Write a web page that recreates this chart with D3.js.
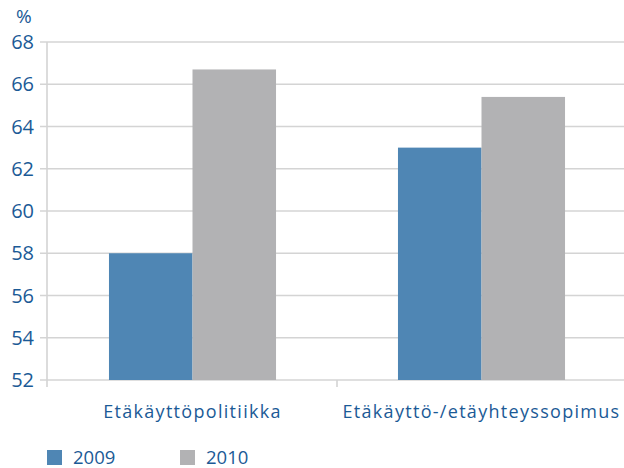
<!DOCTYPE html>
<html>
<head>
<meta charset="utf-8">
<script src="https://cdn.jsdelivr.net/npm/d3@7"></script>
<style>
  body { margin: 0; background: #fff; }
  text { font-family: "Open Sans", "DejaVu Sans", sans-serif; fill: #1b5a96; }
</style>
</head>
<body>
<script>
var categories = ["Etäkäyttöpolitiikka", "Etäkäyttö-/etäyhteyssopimus"];
var seriesNames = ["2009", "2010"];
var values2009 = [58, 63];
var values2010 = [66.7, 65.4];
var yTicks = [52, 54, 56, 58, 60, 62, 64, 66, 68];
var colors = ["#4f86b4", "#b2b2b4"];

var width = 624, height = 468;
var margin = {left: 47, top: 42, right: 1, bottom: 88};

var svg = d3.select("body").append("svg")
  .attr("width", width)
  .attr("height", height);

var x = d3.scaleBand()
  .domain(categories)
  .range([48, 626])
  .paddingInner(0)
  .paddingOuter(0);

var inner = d3.scaleBand()
  .domain(seriesNames)
  .range([0, x.bandwidth()])
  .paddingInner(0)
  .paddingOuter(0.73);

var y = d3.scaleLinear()
  .domain([52, 68])
  .range([height - margin.bottom, margin.top]);

// gridlines
svg.append("g")
  .selectAll("line")
  .data(yTicks)
  .enter().append("line")
  .attr("x1", margin.left - 7)
  .attr("x2", width)
  .attr("y1", function(d) { return y(d); })
  .attr("y2", function(d) { return y(d); })
  .attr("stroke", "#d4d4d4")
  .attr("stroke-width", 1.6);

// y labels
svg.append("g")
  .selectAll("text")
  .data(yTicks)
  .enter().append("text")
  .attr("x", 34)
  .attr("y", function(d) { return y(d); })
  .attr("dy", "0.36em")
  .attr("text-anchor", "end")
  .style("font-size", "20px")
  .text(function(d) { return d; });

svg.append("text")
  .attr("x", 16)
  .attr("y", 23)
  .style("font-size", "19px")
  .text("%");

// bars
var rows = categories.map(function(c, i) {
  return {cat: c, vals: [values2009[i], values2010[i]]};
});

var group = svg.append("g")
  .selectAll("g")
  .data(rows)
  .enter().append("g")
  .attr("transform", function(d) { return "translate(" + x(d.cat) + ",0)"; });

group.selectAll("rect")
  .data(function(d) { return d.vals.map(function(v, j) { return {key: seriesNames[j], v: v, j: j}; }); })
  .enter().append("rect")
  .attr("x", function(d) { return inner(d.key); })
  .attr("width", inner.bandwidth())
  .attr("y", function(d) { return y(d.v); })
  .attr("height", function(d) { return y(52) - y(d.v); })
  .attr("fill", function(d) { return colors[d.j]; });

// y axis line
svg.append("line")
  .attr("x1", margin.left).attr("x2", margin.left)
  .attr("y1", y(68)).attr("y2", y(52) + 7)
  .attr("stroke", "#d4d4d4")
  .attr("stroke-width", 1.6);

// category separators
svg.append("g")
  .selectAll("line")
  .data(categories.slice(1))
  .enter().append("line")
  .attr("x1", function(d) { return x(d); })
  .attr("x2", function(d) { return x(d); })
  .attr("y1", y(52))
  .attr("y2", y(52) + 7)
  .attr("stroke", "#d4d4d4")
  .attr("stroke-width", 1.6);

// category labels
svg.append("g")
  .selectAll("text")
  .data(categories)
  .enter().append("text")
  .attr("x", function(d) { return x(d) + x.bandwidth() / 2; })
  .attr("y", 418)
  .attr("text-anchor", "middle")
  .style("font-size", "18px")
  .style("letter-spacing", "1.3px")
  .text(function(d) { return d; });

// legend
var legend = svg.append("g")
  .selectAll("g")
  .data(seriesNames)
  .enter().append("g")
  .attr("transform", function(d, i) { return "translate(" + (47 + i * 133) + ",450)"; });

legend.append("rect")
  .attr("width", 15)
  .attr("height", 15)
  .attr("fill", function(d, i) { return colors[i]; });

legend.append("text")
  .attr("x", 26)
  .attr("y", 14)
  .style("font-size", "18.5px")
  .text(function(d) { return d; });
</script>
</body>
</html>
